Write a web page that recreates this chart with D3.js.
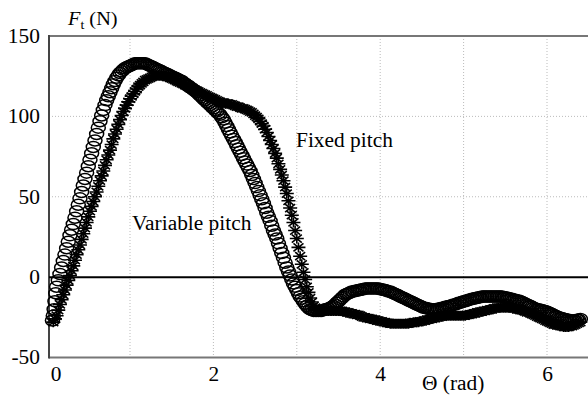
<!DOCTYPE html>
<html>
<head>
<meta charset="utf-8">
<script src="https://cdn.jsdelivr.net/npm/d3@7"></script>
<style>
  body { margin: 0; background: #fff; }
  svg { display: block; font-family: "Liberation Serif", "Times New Roman", serif; }
</style>
</head>
<body>
<svg id="chart" width="588" height="396"></svg>
<script>
// sampling grid (rad) shared by both series, 0.12 .. 6.40 step 0.02
const thetaGrid = d3.range(0.12, 6.41, 0.02);

// Variable pitch (circles)
const variableStartTheta = [0.07, 0.08, 0.09, 0.10, 0.11];
const variableStartF = [-27, -24, -20, -15, -10];
const variableF = [
  -6, -2, 2, 6, 10, 14, 18, 22, 26, 29.5,
  33, 37, 41, 45, 49, 53, 57, 61, 65, 69,
  73, 77, 81, 85, 89, 93, 97, 100.5, 104, 107,
  110, 112.5, 115, 117.5, 120, 122, 124, 125.5, 127, 128,
  129, 130, 130.5, 131, 131.5, 132, 132.5, 133, 133, 133,
  133, 133, 133, 133, 132.5, 132, 131.5, 131, 130.5, 130,
  129.5, 129, 128.5, 128, 127.5, 127, 126.5, 126, 125.5, 125,
  124.5, 124, 123.5, 123, 122.5, 122, 121, 120.5, 119.5, 119,
  118, 117.5, 116.5, 116, 115, 114, 113, 112, 111, 110,
  109, 108, 107, 106, 105, 104, 103, 102, 101, 99.5,
  98, 96, 94, 92, 90, 88, 86, 84, 82, 80,
  78, 76, 74, 72, 70, 68, 66, 63.5, 61, 58.5,
  56, 53.5, 51, 48.5, 46, 43, 40, 37.5, 35, 32,
  29, 26.5, 24, 21, 18, 15, 12, 9, 6, 3.5,
  1, -1.5, -4, -6, -8, -10, -12, -13.5, -15, -16.5,
  -18, -19, -20, -20.5, -21, -21, -21, -21, -21, -21,
  -20.5, -20, -20, -19.5, -19, -18.5, -18, -17, -16, -15,
  -14, -13, -12, -11, -10.5, -10, -9.5, -9, -9, -8.5,
  -8.5, -8, -8, -7.5, -7.5, -7, -7, -7, -7, -7,
  -7, -7, -7, -7, -7.5, -7.5, -8, -8, -8.5, -9,
  -9, -9.5, -10, -10.5, -11, -11.5, -12, -12.5, -13, -13.5,
  -14, -14.5, -15, -15.5, -16, -16.5, -17, -17.5, -18, -18.5,
  -19, -19, -19.5, -19.5, -20, -20, -20, -20, -20, -19.5,
  -19.5, -19, -19, -18.5, -18.5, -18, -18, -17.5, -17, -17,
  -16.5, -16, -16, -15.5, -15, -15, -14.5, -14, -14, -13.5,
  -13.5, -13, -13, -12.5, -12.5, -12, -12, -12, -12, -12,
  -12, -12, -12, -12, -12, -12, -12, -12, -12.5, -12.5,
  -13, -13, -13.5, -13.5, -14, -14, -14.5, -14.5, -15, -15.5,
  -16, -16.5, -17, -17.5, -18, -18.5, -19, -19.5, -20, -20,
  -20.5, -20.5, -21, -21, -21.5, -22, -22.5, -23, -23.5, -24,
  -24.5, -25, -25.5, -25.5, -26, -26, -26.5, -26.5, -27, -27,
  -27, -27, -26.5, -26.5, -26
];

// Fixed pitch (asterisks)
const fixedStartTheta = [0.08, 0.10];
const fixedStartF = [-28, -26];
const fixedF = [
  -24, -20.5, -17, -14, -11, -8, -5, -2, 1, 4,
  7, 10.5, 14, 17, 20, 23.5, 27, 30.5, 34, 37.5,
  41, 44, 47, 50, 53, 56.5, 60, 63, 66, 69.5,
  73, 76, 79, 82.5, 86, 89, 92, 95, 98, 100.5,
  103, 105, 107, 109, 111, 112.5, 114, 115.5, 117, 118.5,
  119.5, 120.5, 121.5, 122.5, 123, 123.5, 124, 124.5, 125, 125,
  125.5, 125.5, 125.5, 125.5, 125, 125, 124.5, 124.5, 124, 123.5,
  123, 122.5, 122, 121.5, 121, 120.5, 120, 119.5, 119, 118.5,
  118, 117.5, 117, 116.5, 116, 115.5, 115, 114.5, 114, 113.5,
  113, 112.5, 112, 111.5, 111, 110.5, 110, 109.5, 109, 108.5,
  108.5, 108, 108, 108, 107.5, 107.5, 107, 106.5, 106, 106,
  105.5, 105, 105, 104.5, 104, 103.5, 103, 102.5, 101.5, 100.5,
  99.5, 98.5, 97, 95.5, 94, 92, 90, 87.5, 85, 82.5,
  80, 77, 74, 70.5, 67, 63.5, 60, 56, 52, 47.5,
  43, 38.5, 34, 29, 24, 18.5, 13, 8, 3, -1.5,
  -6, -9.5, -13, -15.5, -18, -19, -20, -20.5, -21, -21,
  -21, -21, -21, -21, -21, -21, -21, -21, -21, -21,
  -21, -21, -21.5, -21.5, -22, -22, -22.5, -22.5, -23, -23,
  -23.5, -23.5, -24, -24.5, -25, -25, -25.5, -25.5, -26, -26,
  -26.5, -26.5, -27, -27, -27.5, -27.5, -28, -28, -28.5, -28.5,
  -29, -29, -29, -29, -29, -29, -29, -29, -29, -29,
  -29, -29, -28.5, -28.5, -28, -28, -28, -28, -27.5, -27.5,
  -27, -27, -26.5, -26.5, -26, -26, -25.5, -25.5, -25, -25,
  -24.5, -24.5, -24, -24, -24, -24, -24, -24, -24, -24,
  -24, -24, -24, -24, -24, -24, -23.5, -23.5, -23, -23,
  -22.5, -22.5, -22, -22, -21.5, -21.5, -21, -21, -20.5, -20.5,
  -20, -20, -19.5, -19.5, -19, -19, -19, -19, -19, -19,
  -19, -19, -19, -19, -19.5, -19.5, -20, -20, -20.5, -20.5,
  -21, -21.5, -22, -22, -22.5, -23, -23.5, -24, -24.5, -25,
  -25.5, -26, -26.5, -27, -27.5, -28, -28.5, -29, -29.5, -29.5,
  -30, -30, -30.5, -30.5, -31, -31, -31, -31, -30.5, -30.5,
  -30, -29.5, -29, -28.5, -28
];

const xTicks = [0, 2, 4, 6];
const yTicks = [-50, 0, 50, 100, 150];
const xGrid = [1, 2, 3, 4, 5, 6];
const yGrid = [50, 100];

const svg = d3.select("#chart");
const W = 588;
const left = 49;
const stretch = "scale(1.07,1)"; // the source picture is a bit wide

const x = d3.scaleLinear().domain([0, 6.5]).range([46.6, 588.7]);
const y = d3.scaleLinear().domain([-50, 150]).range([357.5, 36]);

const toPoints = (st, sf, f) =>
  st.map((t, i) => ({t: t, f: sf[i]}))
    .concat(f.map((v, i) => ({t: thetaGrid[i], f: v})));

const variable = toPoints(variableStartTheta, variableStartF, variableF);
const fixed = toPoints(fixedStartTheta, fixedStartF, fixedF);

//******** grid ********//
svg.append("g").selectAll("line")
  .data(xGrid).enter().append("line")
    .attr("x1", d => x(d)).attr("x2", d => x(d))
    .attr("y1", y(150)).attr("y2", y(-50))
    .attr("stroke", "#bbb").attr("stroke-width", 1)
    .attr("stroke-dasharray", "1,2");

svg.append("g").selectAll("line")
  .data(yGrid).enter().append("line")
    .attr("x1", left).attr("x2", W)
    .attr("y1", d => y(d)).attr("y2", d => y(d))
    .attr("stroke", "#bbb").attr("stroke-width", 1)
    .attr("stroke-dasharray", "1,2");

//******** frame ********//
svg.append("line")
  .attr("x1", left).attr("x2", W).attr("y1", y(150)).attr("y2", y(150))
  .attr("stroke", "#777").attr("stroke-width", 2);
svg.append("line")
  .attr("x1", left).attr("x2", W).attr("y1", y(-50)).attr("y2", y(-50))
  .attr("stroke", "#777").attr("stroke-width", 2);
svg.append("line")
  .attr("x1", left).attr("x2", left).attr("y1", y(150) - 1).attr("y2", y(-50) + 1)
  .attr("stroke", "#444").attr("stroke-width", 2);

//******** markers ********//
const star = "M-7,0H7M0,-5V5M-5,-4L5,4M-5,4L5,-4";
svg.append("g").selectAll("path")
  .data(fixed).enter().append("path")
    .attr("transform", d => `translate(${x(d.t)},${y(d.f)})`)
    .attr("d", star)
    .attr("fill", "none")
    .attr("stroke", "#000")
    .attr("stroke-width", 1.6);

svg.append("g").selectAll("ellipse")
  .data(variable).enter().append("ellipse")
    .attr("cx", d => x(d.t))
    .attr("cy", d => y(d.f))
    .attr("rx", 7).attr("ry", 5.5)
    .attr("fill", "none")
    .attr("stroke", "#000")
    .attr("stroke-width", 1.5);

// zero line on top
svg.append("line")
  .attr("x1", left).attr("x2", W).attr("y1", y(0)).attr("y2", y(0))
  .attr("stroke", "#000").attr("stroke-width", 2);

//******** axes labels ********//
const ax = svg.append("g")
  .attr("transform", `translate(0,${y(-50)})`)
  .call(d3.axisBottom(x).tickValues(xTicks).tickSize(0).tickPadding(9)
    .tickFormat(d => String(d)));
ax.attr("font-family", null).attr("font-size", null);
ax.select(".domain").remove();
ax.selectAll("text").attr("font-size", 20).attr("fill", "#000").attr("transform", stretch);
ax.selectAll(".tick").filter(d => d === 0).select("text").attr("x", 8.5);

const ay = svg.append("g")
  .attr("transform", `translate(${left},0)`)
  .call(d3.axisLeft(y).tickValues(yTicks).tickSize(0).tickPadding(8.5)
    .tickFormat(d => String(d)));
ay.attr("font-family", null).attr("font-size", null);
ay.select(".domain").remove();
ay.selectAll("text").attr("font-size", 20).attr("fill", "#000").attr("transform", stretch);

const label = (tx, ty, size) => svg.append("text")
  .attr("transform", `translate(${tx},${ty}) ${stretch}`)
  .attr("font-size", size);

const yt = label(68, 25, 19);
yt.append("tspan").attr("font-style", "italic").text("F");
yt.append("tspan").attr("font-size", 13).attr("dy", 4).text("t");
yt.append("tspan").attr("dy", -4).text(" (N)");

label(422, 390, 20).text("Θ (rad)");
label(296, 147, 20).text("Fixed pitch");
label(132, 230, 20).text("Variable pitch");
</script>
</body>
</html>
